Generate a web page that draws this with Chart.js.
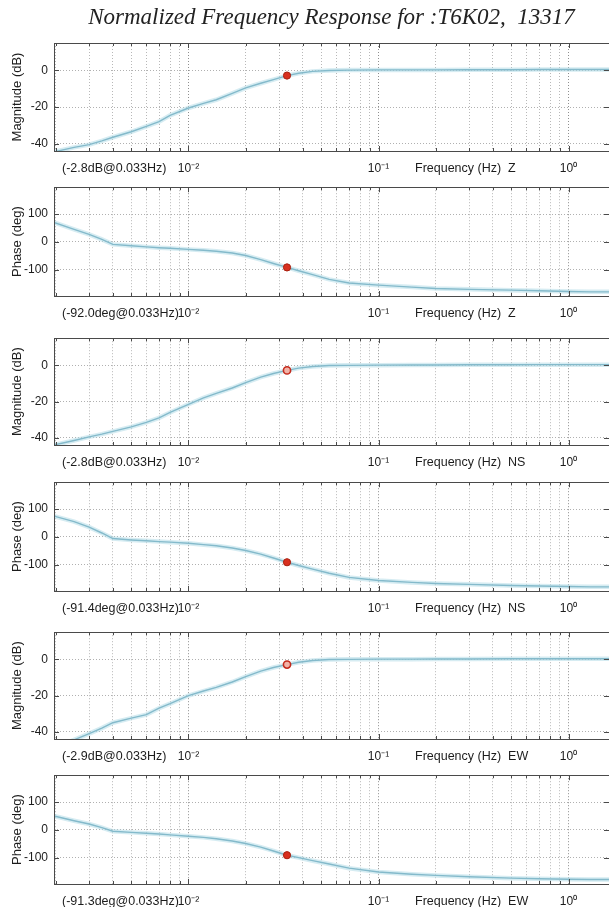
<!DOCTYPE html>
<html><head><meta charset="utf-8">
<script src="https://cdn.jsdelivr.net/npm/chart.js@4/dist/chart.umd.min.js"></script>
<style>
html,body{margin:0;padding:0;background:#fff;width:609px;height:907px;overflow:hidden;position:relative}
.p{position:absolute;left:0;width:609px}
canvas{display:block}
</style></head><body>
<div class="p" style="top:0px"><canvas id="c0" width="609" height="181"></canvas></div>
<div class="p" style="top:174px"><canvas id="c1" width="609" height="152"></canvas></div>
<div class="p" style="top:325px"><canvas id="c2" width="609" height="150"></canvas></div>
<div class="p" style="top:469px"><canvas id="c3" width="609" height="152"></canvas></div>
<div class="p" style="top:619px"><canvas id="c4" width="609" height="150"></canvas></div>
<div class="p" style="top:762px"><canvas id="c5" width="609" height="152"></canvas></div>
<script>
// ---------------- DATA ----------------
const chartTitle = 'Normalized Frequency Response for :T6K02,  13317';
const components = ['Z', 'NS', 'EW'];
const freqHz = [0.00196, 0.0025, 0.003, 0.0035, 0.004, 0.005, 0.006, 0.007, 0.008, 0.01,
                0.012, 0.014, 0.017, 0.02, 0.024, 0.028, 0.033, 0.038, 0.045, 0.055,
                0.07, 0.1, 0.15, 0.2, 0.3, 0.5, 0.7, 1.0, 1.3, 1.633];
const magZ   = [-44.5, -42, -40.5, -38.5, -36.5, -33.5, -30.5, -28, -24.5, -20.5,
                -18, -16, -12.5, -9.5, -7, -5, -2.8, -1.5, -0.5, 0,
                0.2, 0.3, 0.3, 0.3, 0.4, 0.4, 0.5, 0.5, 0.5, 0.5];
const phaseZ = [70, 45, 27, 9, -9, -14, -18, -21, -23, -27,
                -30, -34, -40, -49, -64, -78, -92, -104, -118, -135,
                -148, -156, -163, -168, -171, -174, -176, -179, -180, -180];
const magNS  = [-44, -41.5, -39.5, -38, -36.5, -34, -31.5, -29, -26, -21.5,
                -18, -15.5, -12.5, -9.5, -6.5, -4.5, -2.8, -1.5, -0.6, -0.1,
                0, 0.1, 0.2, 0.2, 0.3, 0.3, 0.4, 0.4, 0.4, 0.4];
const phaseNS= [75, 55, 35, 14, -6, -11, -14, -17, -19, -23,
                -28, -32, -40, -49, -62, -76, -91.4, -103, -116, -131,
                -146, -157, -164, -168, -171, -175, -177, -179, -180, -180];
const magEW  = [-49, -44.5, -41, -38, -35, -32.5, -30.5, -27, -24.5, -20,
                -17.5, -15.5, -12.5, -9.5, -6.5, -4.5, -2.9, -1.6, -0.6, -0.1,
                0, 0.1, 0.1, 0.2, 0.2, 0.3, 0.3, 0.3, 0.3, 0.3];
const phaseEW= [50, 33, 21, 8, -5, -9, -12, -15, -18, -23,
                -27, -32, -40, -49, -62, -76, -91.3, -100, -111, -123,
                -138, -152, -160, -164, -169, -174, -176, -178, -179, -179];
const markerFreqHz = 0.033;
const markerMag   = [-2.8, -2.8, -2.9];
const markerPhase = [-92.0, -91.4, -91.3];
const magTicks   = [-40, -20, 0];
const phaseTicks = [-100, 0, 100];
const freqGridTicks = [0.002,0.003,0.004,0.005,0.006,0.007,0.008,0.009,
                       0.01,0.02,0.03,0.04,0.05,0.06,0.07,0.08,0.09,
                       0.1,0.2,0.3,0.4,0.5,0.6,0.7,0.8,0.9,1];
const decadeTicks  = [0.01, 0.1, 1];
const decadeLabels = ['10⁻²', '10⁻¹', '10⁰'];
const freqRange  = [0.00196, 1.633];
const magRange   = [-44, 15];
const phaseRange = [-195, 197];

// ---------------- RENDER ----------------
const SANS = '"Liberation Sans", Arial, Helvetica, sans-serif';
const TXT = '#1c1c1c';

const boxPlugin = {
  id: 'matlabBox',
  afterDatasetsDraw(chart, args, opts) {
    const {ctx, chartArea: a, scales: {x, y}} = chart;
    ctx.save();
    ctx.strokeStyle = '#4a4a4a';
    ctx.lineWidth = 1;
    ctx.strokeRect(Math.round(a.left) + 0.5, Math.round(a.top) + 0.5,
                   Math.round(a.right - a.left) + 2, Math.round(a.bottom - a.top));
    ctx.beginPath();
    x.ticks.forEach(t => {
      const px = Math.round(x.getPixelForValue(t.value)) + 0.5;
      const len = decadeTicks.includes(t.value) ? 5 : 3;
      ctx.moveTo(px, a.bottom); ctx.lineTo(px, a.bottom - len);
      ctx.moveTo(px, a.top); ctx.lineTo(px, a.top + len);
    });
    y.ticks.forEach(t => {
      const py = Math.round(y.getPixelForValue(t.value)) + 0.5;
      ctx.moveTo(a.left, py); ctx.lineTo(a.left + 5, py);
      ctx.moveTo(a.right, py); ctx.lineTo(a.right - 5, py);
    });
    ctx.stroke();
    ctx.font = '12.5px ' + SANS;
    ctx.fillStyle = TXT;
    ctx.textBaseline = 'middle';
    ctx.textAlign = 'left';
    const yy = x.top + 10 + 7.2;
    ctx.fillText(opts.leftText, 62, yy);
    ctx.fillText(opts.rightText, 415, yy);
    ctx.restore();
  }
};

const panels = [];
components.forEach((c, i) => {
  const mags = [magZ, magNS, magEW][i];
  const phs = [phaseZ, phaseNS, phaseEW][i];
  panels.push({kind: 'mag', comp: c, vals: mags, mark: markerMag[i],
    note: '(' + markerMag[i].toFixed(1) + 'dB@' + markerFreqHz + 'Hz)',
    ring: i > 0});
  panels.push({kind: 'phase', comp: c, vals: phs, mark: markerPhase[i],
    note: '(' + markerPhase[i].toFixed(1) + 'deg@' + markerFreqHz + 'Hz)',
    ring: false});
});

panels.forEach((p, idx) => {
  const isMag = p.kind === 'mag';
  const pts = freqHz.map((f, k) => ({x: f, y: p.vals[k]}));
  const yTicks = isMag ? magTicks : phaseTicks;
  const yRange = isMag ? magRange : phaseRange;
  new Chart(document.getElementById('c' + idx), {
    type: 'scatter',
    data: {
      datasets: [
        {data: [{x: markerFreqHz, y: p.mark}], order: 0, pointRadius: 3.6,
         pointBackgroundColor: p.ring ? '#f2b3a8' : '#d8301f',
         pointBorderColor: p.ring ? '#c42a1c' : '#a8200f',
         pointBorderWidth: p.ring ? 1.6 : 1},
        {data: pts, order: 1, showLine: true, pointRadius: 0, borderColor: '#84bacb',
         borderWidth: 1.4, tension: 0},
        {data: pts, order: 2, showLine: true, pointRadius: 0, borderColor: 'rgba(180,220,232,0.55)',
         borderWidth: 4.5, tension: 0}
      ]
    },
    options: {
      responsive: false, animation: false, devicePixelRatio: 1,
      layout: {autoPadding: false, padding: {top: idx === 0 ? 0 : 12, left: 0, right: 0, bottom: 0}},
      plugins: {
        legend: {display: false}, tooltip: {enabled: false},
        title: idx === 0 ? {display: true, text: chartTitle, fullSize: false, color: '#222',
          font: {family: '"Liberation Serif", "Times New Roman", serif', size: 23, style: 'italic', weight: 'normal', lineHeight: 1.2},
          padding: {top: 4, bottom: 11.4}} : {display: false},
        matlabBox: {leftText: p.note, rightText: 'Frequency (Hz)  ' + p.comp}
      },
      scales: {
        x: {
          type: 'logarithmic', min: freqRange[0], max: freqRange[1],
          afterBuildTicks: s => { s.ticks = freqGridTicks.map(v => ({value: v})); },
          afterFit: s => { s.height = 30; s.paddingLeft = 0; s.paddingRight = 0; },
          ticks: {autoSkip: false, maxRotation: 0, minRotation: 0, padding: 10, color: TXT,
            font: {family: SANS, size: 12},
            callback: v => { const k = decadeTicks.indexOf(v); return k >= 0 ? decadeLabels[k] : ''; }},
          grid: {drawTicks: false, lineWidth: 1,
            color: c => (c.tick && decadeTicks.includes(c.tick.value)) ? '#8f8f8f' : '#b8b8b8'},
          border: {display: false, dash: [1, 2]}
        },
        y: {
          min: yRange[0], max: yRange[1],
          afterBuildTicks: s => { s.ticks = yTicks.map(v => ({value: v})); },
          afterFit: s => { s.width = 54; },
          ticks: {padding: 6, color: TXT, font: {family: SANS, size: 12}},
          grid: {drawTicks: false, color: '#b0b0b0', lineWidth: 1},
          border: {display: false, dash: [1, 2]},
          title: {display: true, text: isMag ? 'Magnitude (dB)' : 'Phase (deg)', color: TXT,
            font: {family: SANS, size: 13}, padding: {top: 10, bottom: 0}}
        }
      }
    },
    plugins: [boxPlugin]
  });
});
</script>
</body></html>
